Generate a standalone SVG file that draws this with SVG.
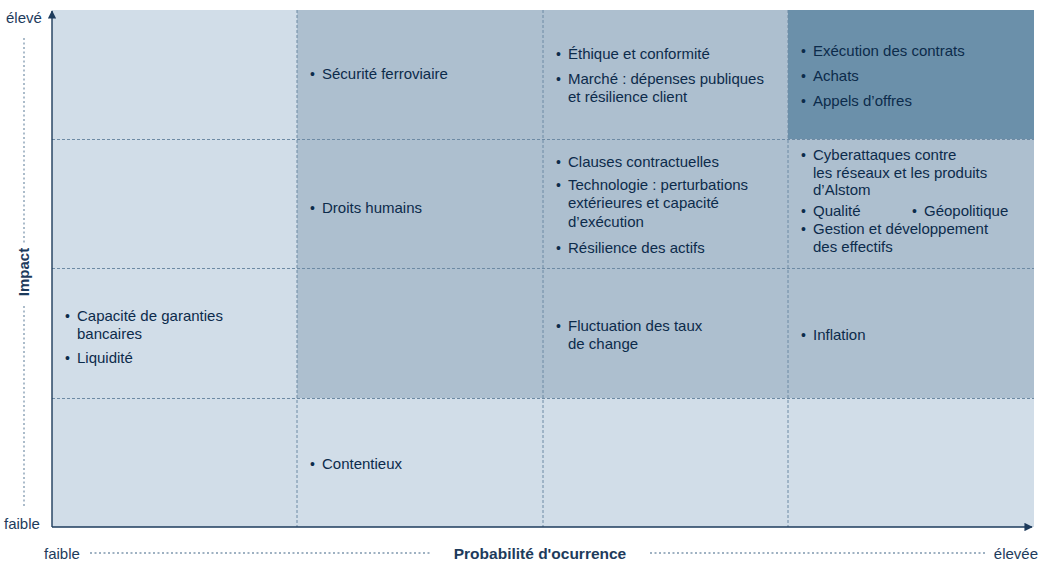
<svg xmlns="http://www.w3.org/2000/svg" width="1049" height="562" viewBox="0 0 1049 562">
  <style>
    .c1 { fill: #d1dde8; }
    .c2 { fill: #adbfcf; }
    .c3 { fill: #6b90aa; }
    .grid { stroke: #6d8aa4; stroke-width: 1; stroke-dasharray: 3 2; fill: none; }
    .dot { stroke: #7f98ae; stroke-width: 1.3; stroke-dasharray: 2 2.5; fill: none; }
    .axis { stroke: #1d3b5c; stroke-width: 1.4; fill: none; }
    text { font-family: "Liberation Sans", Arial, sans-serif; font-size: 15px; fill: #0c2b4b; }
    .bold { font-weight: bold; }
    .lbl { fill: #1d3b5c; }
    .b { font-size: 14px; }
  </style>
  <defs>
    <marker id="arrow" viewBox="0 0 10 10" refX="9" refY="5" markerWidth="6" markerHeight="6" orient="auto">
      <path d="M0,0 L10,5 L0,10 Z" fill="#1d3b5c"/>
    </marker>
  </defs>

  <!-- matrix cells -->
  <g id="cells">
    <rect class="c1" x="52" y="10" width="245" height="517"/>
    <rect class="c2" x="297" y="10" width="737" height="388"/>
    <rect class="c3" x="788" y="10" width="246" height="129"/>
    <rect class="c1" x="297" y="398" width="737" height="129"/>
  </g>

  <!-- dashed grid -->
  <g id="grid" class="grid">
    <line x1="297" y1="10" x2="297" y2="527"/>
    <line x1="543" y1="10" x2="543" y2="527"/>
    <line x1="788" y1="10" x2="788" y2="527"/>
    <line x1="52" y1="139.5" x2="1034" y2="139.5"/>
    <line x1="52" y1="268.5" x2="1034" y2="268.5"/>
    <line x1="52" y1="398.5" x2="1034" y2="398.5"/>
  </g>

  <!-- axes -->
  <g id="axes">
    <line class="axis" x1="52" y1="527" x2="52" y2="11" marker-end="url(#arrow)"/>
    <line class="axis" x1="52" y1="527" x2="1032" y2="527" marker-end="url(#arrow)"/>
    <line class="dot" x1="24" y1="38" x2="24" y2="244"/>
    <line class="dot" x1="24" y1="306" x2="24" y2="506"/>
    <line class="dot" x1="90" y1="553" x2="431" y2="553"/>
    <line class="dot" x1="650" y1="553" x2="985" y2="553"/>
    <text class="lbl" x="6" y="23">élevé</text>
    <text class="lbl" x="4" y="529">faible</text>
    <text class="lbl bold" transform="translate(29,272) rotate(-90)" text-anchor="middle">Impact</text>
    <text class="lbl" x="44" y="559">faible</text>
    <text class="lbl bold" x="540" y="559" text-anchor="middle" style="font-size:15.5px">Probabilité d'ocurrence</text>
    <text class="lbl" x="1038" y="559" text-anchor="end">élevée</text>
  </g>

  <!-- risk entries -->
  <g id="r1c2">
    <text class="b" x="310" y="79">•</text><text x="322" y="79">Sécurité ferroviaire</text>
  </g>
  <g id="r1c3">
    <text class="b" x="556" y="59">•</text><text x="568" y="59">Éthique et conformité</text>
    <text class="b" x="556" y="84">•</text><text x="568" y="84">Marché : dépenses publiques</text>
    <text x="568" y="102">et résilience client</text>
  </g>
  <g id="r1c4">
    <text class="b" x="801" y="56">•</text><text x="813" y="56">Exécution des contrats</text>
    <text class="b" x="801" y="81">•</text><text x="813" y="81">Achats</text>
    <text class="b" x="801" y="106">•</text><text x="813" y="106">Appels d’offres</text>
  </g>
  <g id="r2c2">
    <text class="b" x="310" y="213">•</text><text x="322" y="213">Droits humains</text>
  </g>
  <g id="r2c3">
    <text class="b" x="556" y="167">•</text><text x="568" y="167">Clauses contractuelles</text>
    <text class="b" x="556" y="190">•</text><text x="568" y="190">Technologie : perturbations</text>
    <text x="568" y="208">extérieures et capacité</text>
    <text x="568" y="227">d’exécution</text>
    <text class="b" x="556" y="253">•</text><text x="568" y="253">Résilience des actifs</text>
  </g>
  <g id="r2c4">
    <text class="b" x="801" y="160">•</text><text x="813" y="160">Cyberattaques contre</text>
    <text x="813" y="178">les réseaux et les produits</text>
    <text x="813" y="195">d’Alstom</text>
    <text class="b" x="801" y="216">•</text><text x="813" y="216">Qualité</text>
    <text class="b" x="912" y="216">•</text><text x="924" y="216">Géopolitique</text>
    <text class="b" x="801" y="234">•</text><text x="813" y="234">Gestion et développement</text>
    <text x="813" y="252">des effectifs</text>
  </g>
  <g id="r3c1">
    <text class="b" x="65" y="321">•</text><text x="77" y="321">Capacité de garanties</text>
    <text x="77" y="339">bancaires</text>
    <text class="b" x="65" y="363">•</text><text x="77" y="363">Liquidité</text>
  </g>
  <g id="r3c3">
    <text class="b" x="556" y="331">•</text><text x="568" y="331">Fluctuation des taux</text>
    <text x="568" y="349">de change</text>
  </g>
  <g id="r3c4">
    <text class="b" x="801" y="340">•</text><text x="813" y="340">Inflation</text>
  </g>
  <g id="r4c2">
    <text class="b" x="310" y="469">•</text><text x="322" y="469">Contentieux</text>
  </g>
</svg>
